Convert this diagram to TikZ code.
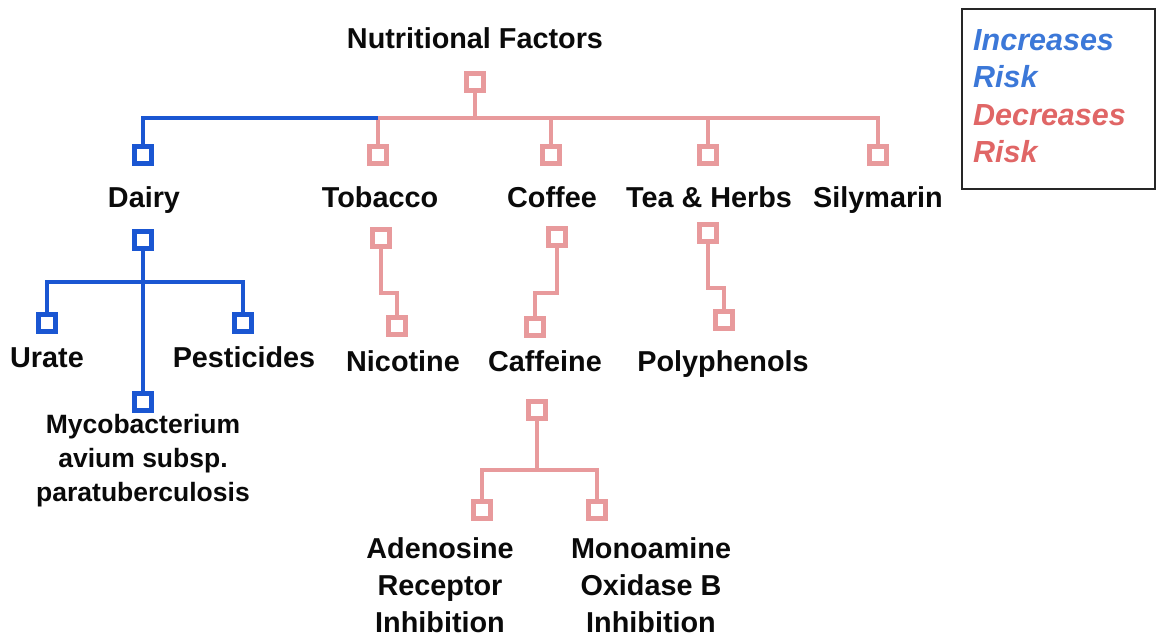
\documentclass[tikz,border=0pt]{standalone}
\usepackage{fontspec}
\setmainfont{Liberation Sans}
\definecolor{blueline}{HTML}{1A56D2}
\definecolor{pinkline}{HTML}{E89A9C}
\definecolor{legblue}{HTML}{3C78D8}
\definecolor{legred}{HTML}{E06666}
\definecolor{txt}{HTML}{0A0A0A}
\tikzset{
  bl/.style={draw=blueline, line width=4pt},
  pk/.style={draw=pinkline, line width=4pt},
  sqb/.style={draw=blueline, fill=white, line width=4.5pt, minimum size=17pt, inner sep=0pt},
  sqp/.style={draw=pinkline, fill=white, line width=4.5pt, minimum size=17pt, inner sep=0pt},
  lab/.style={anchor=base, inner sep=0pt, text=txt, font=\fontsize{28.8}{34}\selectfont\bfseries},
  labs/.style={anchor=base, inner sep=0pt, text=txt, font=\fontsize{26.5}{32}\selectfont\bfseries},
  leg/.style={anchor=base west, inner sep=0pt, font=\fontsize{30.5}{36}\selectfont\bfseries\itshape},
}
\begin{document}
\begin{tikzpicture}[x=1pt,y=-1pt]
\useasboundingbox (0,0) rectangle (1157,637);
% coordinates
\coordinate (busL) at (143,118);
\coordinate (busM) at (378,118);
\coordinate (busR) at (878,118);
\coordinate (dbus) at (143,282);
% squares (positions)
\node[sqp] (r) at (475,82) {};
\node[sqb] (sDairy) at (143,155) {};
\node[sqp] (sTob) at (378,155) {};
\node[sqp] (sCof) at (551,155) {};
\node[sqp] (sTea) at (708,155) {};
\node[sqp] (sSil) at (878,155) {};
\node[sqb] (dd) at (143,240) {};
\node[sqb] (sUr) at (47,323) {};
\node[sqb] (sPe) at (243,323) {};
\node[sqb] (sMy) at (143,402) {};
\node[sqp] (t2) at (381,238) {};
\node[sqp] (sNic) at (397,326) {};
\node[sqp] (c2) at (557,237) {};
\node[sqp] (sCaf) at (535,327) {};
\node[sqp] (h2) at (708,233) {};
\node[sqp] (sPol) at (724,320) {};
\node[sqp] (c3) at (537,410) {};
\node[sqp] (sAd) at (482,510) {};
\node[sqp] (sMo) at (597,510) {};
% connectors
\draw[pk] (r.south) -- (r.south |- busM);
\draw[pk] (busM) -- (busR) -- (sSil.north);
\draw[pk] (sTob.north) -- (sTob.north |- busM);
\draw[pk] (sCof.north) -- (sCof.north |- busM);
\draw[pk] (sTea.north) -- (sTea.north |- busM);
\draw[bl] (busM) -| (sDairy.north);
\draw[bl] (dd.south) -- (sMy.north);
\draw[bl] (sUr.north) |- (dbus) -| (sPe.north);
\draw[pk] (t2.south) -- ++(0,44) -| (sNic.north);
\draw[pk] (c2.south) -- ++(0,45) -| (sCaf.north);
\draw[pk] (h2.south) -- ++(0,44) -| (sPol.north);
\draw[pk] (c3.south) -- ++(0,49) coordinate (cb);
\draw[pk] (sAd.north) |- (cb) -| (sMo.north);
% redraw squares on top
\foreach \n in {r,sTob,sCof,sTea,sSil,t2,sNic,c2,sCaf,h2,sPol,c3,sAd,sMo}
  \node[sqp] at (\n) {};
\foreach \n in {sDairy,dd,sUr,sPe,sMy}
  \node[sqb] at (\n) {};
% labels
\node[lab] (tNF) at (475,48) {Nutritional Factors};
\node[lab] (tDairy) at (144,207) {Dairy};
\node[lab] (tTob) at (380,207) {Tobacco};
\node[lab] (tCof) at (552,207) {Coffee};
\node[lab] (tTea) at (709,207) {Tea \& Herbs};
\node[lab] (tSil) at (878,207) {Silymarin};
\node[lab] (tUr) at (47,367) {Urate};
\node[lab] (tPe) at (244,367) {Pesticides};
\node[lab] (tNic) at (403,371) {Nicotine};
\node[lab] (tCaf) at (545,371) {Caffeine};
\node[lab] (tPol) at (723,371) {Polyphenols};
\node[labs] (tMy1) at (143,433) {Mycobacterium};
\node[labs] (tMy2) at (143,467) {avium subsp.};
\node[labs] (tMy3) at (143,501) {paratuberculosis};
\node[lab] (tAd1) at (440,558) {Adenosine};
\node[lab] (tAd2) at (440,595) {Receptor};
\node[lab] (tAd3) at (440,632) {Inhibition};
\node[lab] (tMo1) at (651,558) {Monoamine};
\node[lab] (tMo2) at (651,595) {Oxidase B};
\node[lab] (tMo3) at (651,632) {Inhibition};
% legend
\draw[draw=black!85, line width=2pt] (962,9) rectangle (1155,189);
\node[leg, text=legblue] (l1) at (973,50) {Increases};
\node[leg, text=legblue] (l2) at (973,87) {Risk};
\node[leg, text=legred] (l3) at (973,125) {Decreases};
\node[leg, text=legred] (l4) at (973,162) {Risk};
\end{tikzpicture}
\end{document}
